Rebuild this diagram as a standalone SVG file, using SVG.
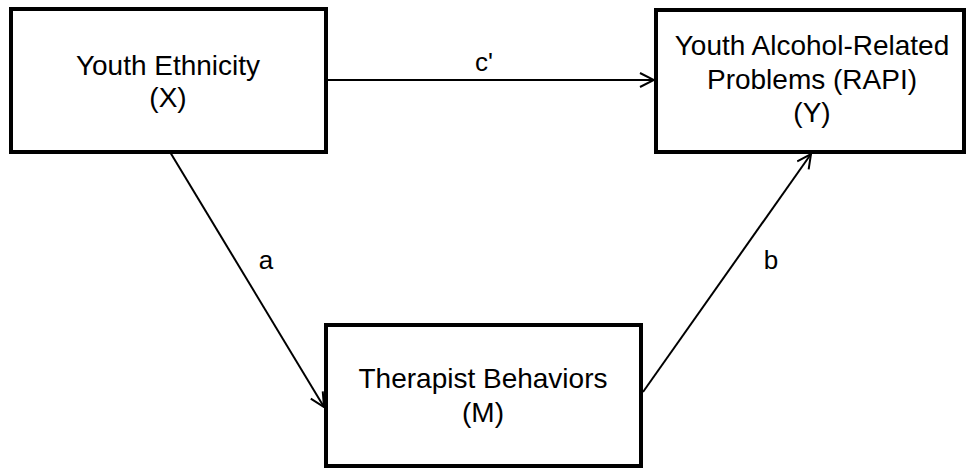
<svg xmlns="http://www.w3.org/2000/svg" width="967" height="471" viewBox="0 0 967 471">
<style>
.box{fill:#fff;stroke:#000;stroke-width:4}
.t{font-family:"Liberation Sans",Arial,sans-serif;font-size:28px;fill:#000;text-anchor:middle}
.l{font-family:"Liberation Sans",Arial,sans-serif;font-size:26px;fill:#000;text-anchor:middle}
.c{stroke:#000;stroke-width:2;fill:none}
</style>
<defs>
<marker id="ah" markerWidth="16" markerHeight="16" refX="15" refY="8" orient="auto" markerUnits="userSpaceOnUse">
<path d="M1,1 L15,8 L1,15" fill="none" stroke="#000" stroke-width="2"/>
</marker>
</defs>
<rect width="967" height="471" fill="#fff"/>
<g id="connectors">
<line class="c" x1="326" y1="80" x2="654" y2="80" marker-end="url(#ah)"/>
<line class="c" x1="170" y1="152" x2="324" y2="407" marker-end="url(#ah)"/>
<line class="c" x1="643" y1="392" x2="811" y2="154" marker-end="url(#ah)"/>
<text class="l" x="484" y="71">c'</text>
<text class="l" x="266" y="269">a</text>
<text class="l" x="771" y="269">b</text>
</g>
<g id="node-x">
<rect class="box" x="11" y="9" width="315" height="143"/>
<text class="t" x="168" y="75">Youth Ethnicity</text>
<text class="t" x="168" y="107">(X)</text>
</g>
<g id="node-y">
<rect class="box" x="656" y="10" width="308" height="142"/>
<text class="t" x="812" y="55">Youth Alcohol-Related</text>
<text class="t" x="812" y="89">Problems (RAPI)</text>
<text class="t" x="812" y="122">(Y)</text>
</g>
<g id="node-m">
<rect class="box" x="326" y="325" width="315" height="141"/>
<text class="t" x="483" y="388">Therapist Behaviors</text>
<text class="t" x="483" y="422">(M)</text>
</g>
</svg>
